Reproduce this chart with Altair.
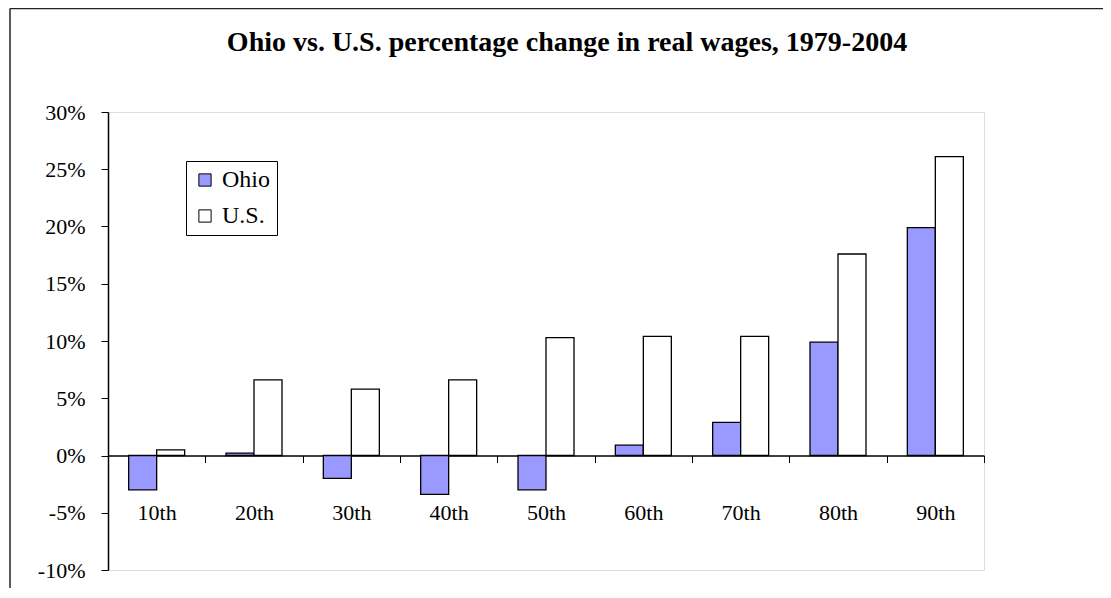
import altair as alt
import pandas as pd

categories = ["10th", "20th", "30th", "40th", "50th", "60th", "70th", "80th", "90th"]
ohio = [-3.0, 0.2, -2.0, -3.4, -3.0, 0.9, 2.9, 9.9, 19.9]
us = [0.5, 6.6, 5.8, 6.6, 10.3, 10.4, 10.4, 17.6, 26.1]
series = ["Ohio", "U.S."]
colors = ["#9999ff", "#ffffff"]

rows = []
for c, o, u in zip(categories, ohio, us):
    rows.append({"pct": c, "series": "Ohio", "value": o / 100})
    rows.append({"pct": c, "series": "U.S.", "value": u / 100})
df = pd.DataFrame(rows)

FONT = "Liberation Serif"
W, H = 876, 458

bars = alt.Chart(df).mark_bar(stroke="black", strokeWidth=1.3).encode(
    x=alt.X("pct:N", sort=categories, title=None,
            scale=alt.Scale(paddingInner=0, paddingOuter=0),
            axis=alt.Axis(orient="bottom", offset=-114.5, tickBand="extent",
                          tickSize=7, tickColor="black", domainColor="black",
                          domainWidth=1.5, labelAngle=0, labelFont=FONT,
                          labelFontSize=22, labelColor="black",
                          labelBaseline="middle", labelPadding=50)),
    xOffset=alt.XOffset("series:N", sort=series,
                        scale=alt.Scale(paddingInner=0, paddingOuter=0.738)),
    y=alt.Y("value:Q", title=None,
            scale=alt.Scale(domain=[-0.1, 0.3], nice=False, zero=False),
            axis=alt.Axis(values=[-0.1, -0.05, 0, 0.05, 0.1, 0.15, 0.2, 0.25, 0.3],
                          labelExpr="(datum.value < -0.0001 ? '-' : '') + format(abs(datum.value) * 100, '.0f') + '%'",
                          grid=False, tickSize=7, tickColor="black",
                          domainColor="black", domainWidth=1.5,
                          labelFont=FONT, labelFontSize=22, labelColor="black",
                          labelPadding=16)),
    fill=alt.Fill("series:N", sort=series,
                  scale=alt.Scale(domain=series, range=colors),
                  legend=alt.Legend(title=None, orient="none", legendX=78, legendY=49,
                                    strokeColor="black", padding=7,
                                    symbolType="square", symbolSize=150,
                                    symbolStrokeColor="black", symbolStrokeWidth=1,
                                    labelFont=FONT, labelFontSize=24,
                                    labelColor="black", labelOffset=5,
                                    rowPadding=12)),
)

frame_df = pd.DataFrame({"a": [0]})
frame_top = alt.Chart(frame_df).mark_rule(color="#222", strokeWidth=1.5).encode(
    x=alt.value(-98), x2=alt.value(1100), y=alt.value(-103.5))
frame_left = alt.Chart(frame_df).mark_rule(color="#222", strokeWidth=1.5).encode(
    x=alt.value(-98), y=alt.value(-103.5), y2=alt.value(600))

chart = alt.layer(bars, frame_top, frame_left).properties(
    width=W, height=H,
    autosize=alt.AutoSizeParams(type="none"),
    padding={"left": 100, "top": 104, "right": 119, "bottom": 18},
    title=alt.TitleParams("Ohio vs. U.S. percentage change in real wages, 1979-2004",
                          font=FONT, fontSize=28, fontWeight="bold", color="black",
                          anchor="middle", frame="group", baseline="alphabetic",
                          offset=-71, dx=21),
).configure_view(stroke="#888", strokeWidth=1.5).configure_legend(
    labelFont=FONT, labelFontSize=24, labelColor="black"
).configure(background="white")

chart.save("out.html", embed_options={"renderer": "svg", "actions": False})
